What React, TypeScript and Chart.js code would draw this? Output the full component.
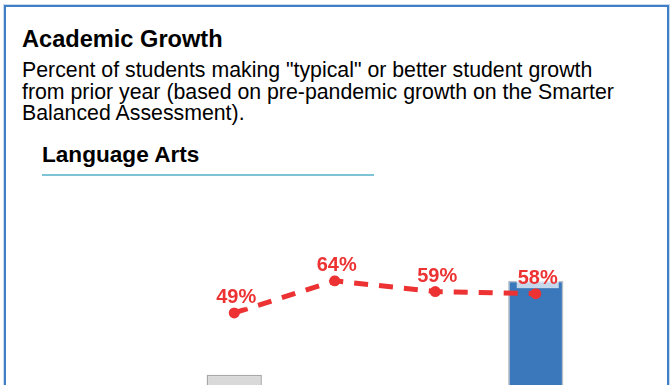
import React, { useEffect, useRef } from "react";
import { Chart, registerables } from "chart.js";

Chart.register(...registerables);

const categories = ["2019", "2021", "2022", "2023"];
const growthValues = [49, 64, 59, 58];
const barValues: (number | null)[] = [20, null, null, 64];
const barColors = ["#d9d9d9", "#d9d9d9", "#d9d9d9", "#3a78bb"];
const barBorders = ["#a8a8a8", "#a8a8a8", "#a8a8a8", "#b6bec8"];
const RED = "#ec3232";

const labelPlugin = {
  id: "pctLabels",
  afterDatasetsDraw(chart: any) {
    const ctx = chart.ctx;
    const meta = chart.getDatasetMeta(1);
    ctx.save();
    ctx.font = "bold 20px 'Liberation Sans', Arial, sans-serif";
    ctx.textAlign = "center";
    ctx.textBaseline = "alphabetic";
    meta.data.forEach((pt: any, i: number) => {
      const txt = growthValues[i] + "%";
      const w = ctx.measureText(txt).width;
      const x = pt.x + 2;
      const y = pt.y - 10;
      ctx.fillStyle = "rgba(255,255,255,0.7)";
      ctx.fillRect(x - w / 2 - 1, y - 19, w + 2, 23.5);
      ctx.fillStyle = RED;
      ctx.fillText(txt, x, y);
    });
    ctx.restore();
  },
};

function GrowthChart() {
  const ref = useRef<HTMLCanvasElement>(null);
  useEffect(() => {
    if (!ref.current) return;
    const chart = new Chart(ref.current, {
      type: "bar",
      data: {
        labels: categories,
        datasets: [
          {
            type: "bar",
            data: barValues,
            backgroundColor: barColors,
            borderColor: barBorders,
            borderWidth: 1.5,
            barPercentage: 0.55,
            categoryPercentage: 1,
            order: 1,
          } as any,
          {
            type: "line",
            data: growthValues,
            borderColor: RED,
            backgroundColor: RED,
            borderWidth: 5,
            borderDash: [14, 11],
            pointRadius: 5.5,
            pointBorderWidth: 0,
            pointBackgroundColor: RED,
            tension: 0,
            order: 0,
          } as any,
        ],
      },
      options: {
        responsive: false,
        animation: false,
        layout: { padding: { left: 184, right: 84, top: 24, bottom: 22.5 } },
        plugins: { legend: { display: false }, tooltip: { enabled: false } },
        scales: {
          x: { display: false },
          y: { display: false, min: 0, max: 100 },
        },
      },
      plugins: [labelPlugin],
    });
    return () => chart.destroy();
  }, []);
  return (
    <canvas
      ref={ref}
      width={670}
      height={260}
      style={{ position: "absolute", left: 0, top: 180, display: "block" }}
    />
  );
}

export default function App() {
  const font = "'Liberation Sans', Arial, sans-serif";
  return (
    <div style={{ position: "fixed", left: 0, top: 0, width: 670, height: 385, overflow: "hidden", fontFamily: font, background: "#fff" }}>
      <div
        style={{
          position: "absolute",
          left: 4,
          top: 5,
          width: 661,
          height: 500,
          borderTop: "2px solid #3f7fc6",
          borderLeft: "2px solid #3f7fc6",
          borderRight: "2.5px solid #3f7fc6",
          boxShadow: "0 0 0 1px #c9d9ee",
          boxSizing: "content-box",
        }}
      />
      <div style={{ position: "absolute", left: 22, top: 27.5, fontSize: 23.6, lineHeight: "23.6px", fontWeight: "bold", color: "#000", whiteSpace: "nowrap" }}>
        Academic Growth
      </div>
      <div style={{ position: "absolute", left: 22, top: 60, fontSize: 21.3, lineHeight: "21.6px", color: "#000", whiteSpace: "nowrap" }}>
        Percent of students making "typical" or better student growth
        <br />
        from prior year (based on pre-pandemic growth on the Smarter
        <br />
        Balanced Assessment).
      </div>
      <div style={{ position: "absolute", left: 42, top: 143.5, fontSize: 22.6, lineHeight: "22.6px", fontWeight: "bold", color: "#000", whiteSpace: "nowrap" }}>
        Language Arts
      </div>
      <div style={{ position: "absolute", left: 42, top: 174, width: 332, height: 1.5, background: "#7fc3d6" }} />
      <GrowthChart />
    </div>
  );
}
